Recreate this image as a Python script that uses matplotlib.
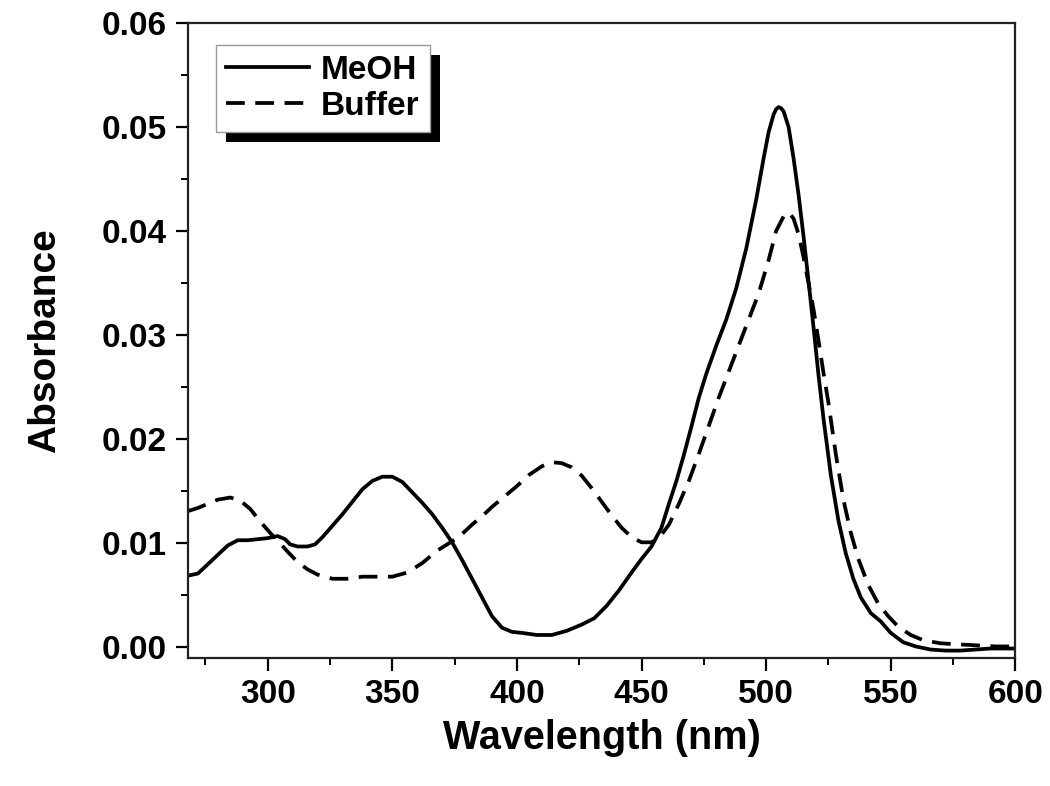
import matplotlib
matplotlib.use('Agg')
import matplotlib.pyplot as plt
import matplotlib.patches as patches
from matplotlib.ticker import MultipleLocator, FormatStrFormatter

plt.rcParams['font.family'] = ['Liberation Sans', 'DejaVu Sans']
plt.rcParams['font.weight'] = 'bold'

# MeOH spectrum (solid line)
meoh_wl = [268, 272, 276, 280, 284, 288, 292, 296, 300, 304, 307, 309, 312, 316, 319,
           322, 326, 330, 334, 338, 342, 346, 350, 354, 358, 362, 366, 370, 374, 378,
           382, 386, 390, 394, 398, 402, 408, 414, 420, 426, 431, 436, 441, 446, 450,
           454, 458, 461, 464, 467, 470, 473, 476, 480, 484, 488, 492, 496, 499, 501,
           503, 504, 505, 506, 507, 509, 511, 513, 515, 517, 519, 521, 523, 526, 529,
           532, 535, 538, 542, 546, 550, 555, 560, 566, 572, 578, 584, 590, 596, 600]
meoh_abs = [0.0069, 0.0071, 0.0080, 0.0089, 0.0098, 0.0103, 0.0103, 0.0104, 0.0105, 0.0107,
            0.0104, 0.0099, 0.0097, 0.0097, 0.0099, 0.0106, 0.0117, 0.0128, 0.0140, 0.0152,
            0.0160, 0.0164, 0.0164, 0.0159, 0.0149, 0.0139, 0.0128, 0.0115, 0.0101, 0.0084,
            0.0066, 0.0048, 0.0030, 0.0019, 0.0015, 0.0014, 0.0012, 0.0012, 0.0016, 0.0022,
            0.0028, 0.0040, 0.0055, 0.0072, 0.0085, 0.0097, 0.0115, 0.0138, 0.0160, 0.0185,
            0.0212, 0.0240, 0.0263, 0.0290, 0.0315, 0.0345, 0.0383, 0.0430, 0.0470, 0.0495,
            0.0512, 0.0517, 0.0519, 0.0518, 0.0515, 0.0500, 0.0470, 0.0435, 0.0395, 0.0352,
            0.0308, 0.0262, 0.0220, 0.0165, 0.0122, 0.0090, 0.0066, 0.0048, 0.0033, 0.0025,
            0.0014, 0.0005, 0.0001, -0.0002, -0.0003, -0.0003, -0.0002, -0.0001, -0.0001,
            -0.0001]

# Buffer spectrum (dashed line)
buf_wl = [268, 272, 276, 280, 285, 289, 293, 297, 301, 305, 308, 312, 316, 320, 326,
          332, 338, 344, 350, 356, 362, 368, 374, 378, 382, 386, 390, 395, 400, 405,
          410, 414, 418, 422, 426, 430, 434, 438, 442, 446, 450, 454, 457, 461, 465,
          469, 473, 477, 481, 485, 489, 493, 497, 501, 504, 507, 509, 511, 513, 515,
          517, 519, 521, 523, 525, 528, 531, 534, 537, 541, 545, 549, 553, 558, 563,
          570, 577, 585, 592, 600]
buf_abs = [0.0131, 0.0134, 0.0138, 0.0142, 0.0144, 0.0141, 0.0133, 0.0121, 0.0110, 0.0100,
           0.0092, 0.0082, 0.0075, 0.0070, 0.0066, 0.0066, 0.0068, 0.0068, 0.0068, 0.0072,
           0.0081, 0.0093, 0.0102, 0.0109, 0.0118, 0.0126, 0.0135, 0.0145, 0.0155, 0.0166,
           0.0174, 0.0178, 0.0177, 0.0173, 0.0165, 0.0153, 0.0140, 0.0127, 0.0115, 0.0106,
           0.0101, 0.0101, 0.0105, 0.0118, 0.0138, 0.0160, 0.0186, 0.0213, 0.0240, 0.0265,
           0.0290, 0.0315, 0.0340, 0.0372, 0.0400, 0.0414, 0.0418, 0.0412, 0.0397, 0.0375,
           0.0350, 0.0325, 0.0295, 0.0264, 0.0235, 0.0185, 0.0142, 0.0110, 0.0085, 0.0060,
           0.0042, 0.0030, 0.0020, 0.0012, 0.0007, 0.0004, 0.0003, 0.0002, 0.0001, 0.0001]

fig = plt.figure(figsize=(10.5, 7.86), dpi=100)
ax = fig.add_axes([0.179, 0.163, 0.788, 0.808])

ax.plot(meoh_wl, meoh_abs, color='black', lw=2.7, label='MeOH')
ax.plot(buf_wl, buf_abs, color='black', lw=2.7, dashes=(5, 2.8), label='Buffer')

ax.set_xlim(268, 600)
ax.set_ylim(-0.001, 0.06)
ax.xaxis.set_major_locator(MultipleLocator(50))
ax.xaxis.set_minor_locator(MultipleLocator(25))
ax.yaxis.set_major_locator(MultipleLocator(0.01))
ax.yaxis.set_minor_locator(MultipleLocator(0.005))
ax.yaxis.set_major_formatter(FormatStrFormatter('%.2f'))

ax.tick_params(which='major', direction='out', length=9, width=1.6, labelsize=24, pad=6)
ax.tick_params(which='minor', direction='out', length=5, width=1.4)
for s in ax.spines.values():
    s.set_linewidth(1.6)
    s.set_color('#222222')

ax.set_xlabel('Wavelength (nm)', fontsize=28.5, fontweight='bold', labelpad=7)
ax.set_ylabel('Absorbance', fontsize=28, fontweight='bold', labelpad=28)

leg = ax.legend(loc='upper left', bbox_to_anchor=(0.034, 0.965), fontsize=24,
                handlelength=2.5, handletextpad=0.35, borderpad=0.3, labelspacing=0.15,
                fancybox=False, framealpha=1, borderaxespad=0)
leg.get_frame().set_edgecolor('#999999')
leg.get_frame().set_linewidth(1.0)

# black drop shadow behind the legend box
fig.canvas.draw()
bb = leg.get_frame().get_window_extent().transformed(fig.transFigure.inverted())
dx = 10 / 1050.0
dy = 10 / 786.0
shadow = patches.Rectangle((bb.x0 + dx, bb.y0 - dy), bb.width, bb.height,
                           transform=fig.transFigure, facecolor='black',
                           edgecolor='none', zorder=4, clip_on=False)
ax.add_patch(shadow)

fig.savefig('out.png', dpi=100)
